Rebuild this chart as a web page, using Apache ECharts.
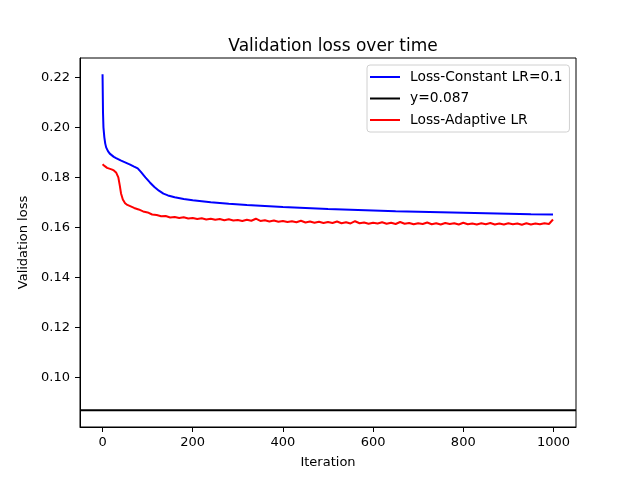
<!DOCTYPE html>
<html><head><meta charset="utf-8">
<script src="https://cdn.jsdelivr.net/npm/echarts@6/dist/echarts.min.js"></script>
<style>html,body{margin:0;padding:0;background:#fff}#c{width:640px;height:480px}</style>
</head><body><div id="c"></div>
<script>
var constIter = [0,1,2,4,6,8,12,16,20,25,30,40,50,60,70,78,85,95,105,115,125,135,145,160,180,200,240,280,320,360,400,450,500,550,600,650,700,750,800,850,900,950,999];
var constLoss = [.2212,.2060,.2000,.1960,.1935,.1920,.1905,.1895,.1888,.1882,.1877,.1868,.1860,.1852,.1843,.1836,.1822,.1800,.1780,.1762,.1747,.1735,.1728,.1721,.1714,.1709,.1701,.1695,.1690,.1686,.1682,.1678,.1674,.1671,.1668,.1665,.1663,.1661,.1659,.1657,.1655,.1653,.1652];
var adaptIter = [0,5,10,15,20,25,30,35,38,41,45,50,55,60,70,80,90,100,110,120,130,140,150,160,170,180,190,200,210,220,230,240,250,260,270,280,290,300,310,320,330,340,350,360,370,380,390,400,410,420,430,440,450,460,470,480,490,500,510,520,530,540,550,560,570,580,590,600,610,620,630,640,650,660,670,680,690,700,710,720,730,740,750,760,770,780,790,800,810,820,830,840,850,860,870,880,890,900,910,920,930,940,950,960,970,980,990,999];
var adaptLoss = [.1853,.1845,.1838,.1835,.1832,.1828,.1820,.1800,.1770,.1736,.1712,.1697,.1690,.1686,.1678,.1672,.1664,.1660,.1652,.1650,.1645,.1646,.1640,.1642,.1638,.1641,.1636,.1638,.1634,.1637,.1632,.1635,.1631,.1634,.1629,.1633,.1628,.1630,.1626,.1631,.1627,.1635,.1626,.1629,.1624,.1628,.1623,.1626,.1622,.1625,.1621,.1627,.1620,.1624,.1619,.1623,.1618,.1622,.1618,.1624,.1617,.1621,.1616,.1625,.1617,.1620,.1615,.1619,.1616,.1621,.1615,.1619,.1614,.1622,.1615,.1618,.1613,.1617,.1614,.1620,.1613,.1617,.1612,.1618,.1614,.1617,.1612,.1619,.1613,.1616,.1612,.1617,.1613,.1618,.1612,.1616,.1612,.1617,.1613,.1616,.1611,.1617,.1612,.1616,.1613,.1617,.1614,.1632];
var hLineX = [-50, 1050];
var hLineY = 0.087;
var xTicks = [0,200,400,600,800,1000];
var yTicks = [0.10,0.12,0.14,0.16,0.18,0.20,0.22];

function zip(a,b){return a.map(function(v,i){return [v,b[i]];});}
var F = 'DejaVu Sans';
var chart = echarts.init(document.getElementById('c'));
chart.setOption({
  animation:false,
  textStyle:{fontFamily:F},
  title:{text:'Validation loss over time',left:328,textAlign:'center',top:33,
    textStyle:{fontFamily:F,fontSize:17,fontWeight:'normal',color:'#000'}},
  grid:{left:80,top:58,width:496,height:369,show:true,borderColor:'#000',borderWidth:1,containLabel:false},
  legend:{orient:'vertical',left:367,top:65,padding:[5,7,5,3],itemGap:7.5,itemWidth:30,itemHeight:2,icon:'rect',
    borderColor:'#d0d0d0',borderWidth:1,borderRadius:3,backgroundColor:'#fff',
    textStyle:{fontFamily:F,fontSize:13.8,lineHeight:14,color:'#000',padding:[0,0,0,5]},
    data:['Loss-Constant LR=0.1','y=0.087','Loss-Adaptive LR']},
  xAxis:{type:'value',min:-50,max:1050,
    name:'Iteration',nameLocation:'middle',nameGap:29,nameTextStyle:{fontFamily:F,fontSize:13,color:'#000'},
    axisLine:{show:true,onZero:false,lineStyle:{color:'#000'}},
    axisTick:{show:true,length:5,lineStyle:{color:'#000'},customValues:xTicks},
    axisLabel:{color:'#000',fontFamily:F,fontSize:13,margin:9,customValues:xTicks,formatter:function(v){return String(v);}},
    splitLine:{show:false}},
  yAxis:{type:'value',min:0.0803,max:0.2277,
    name:'Validation loss',nameLocation:'middle',nameGap:45,nameRotate:90,nameTextStyle:{fontFamily:F,fontSize:13,color:'#000'},
    axisLine:{show:true,onZero:false,lineStyle:{color:'#000'}},
    axisTick:{show:true,length:5,lineStyle:{color:'#000'},customValues:yTicks},
    axisLabel:{color:'#000',fontFamily:F,fontSize:13,margin:10,customValues:yTicks,formatter:function(v){return v.toFixed(2);}},
    splitLine:{show:false}},
  series:[
    {name:'Loss-Constant LR=0.1',type:'line',symbol:'none',data:zip(constIter,constLoss),
      lineStyle:{color:'#0000ff',width:2},itemStyle:{color:'#0000ff'},z:3},
    {name:'y=0.087',type:'line',symbol:'none',data:hLineX.map(function(x){return [x,hLineY];}),
      lineStyle:{color:'#000',width:2},itemStyle:{color:'#000'},z:2},
    {name:'Loss-Adaptive LR',type:'line',symbol:'none',data:zip(adaptIter,adaptLoss),
      lineStyle:{color:'#ff0000',width:2},itemStyle:{color:'#ff0000'},z:4}
  ]
});
</script></body></html>
